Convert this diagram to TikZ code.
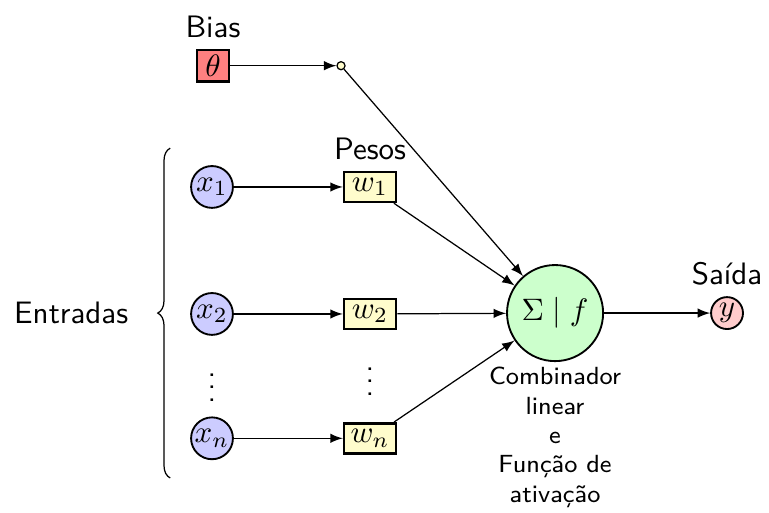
\documentclass[tikz,border=0pt]{standalone}
\usepackage{amsmath,amssymb}
\usepackage{xcolor}
\usepackage{tikz}
\usetikzlibrary{arrows}
\usetikzlibrary{decorations.pathreplacing}

\begin{document}
\begin{tikzpicture}[>=latex, font=\sffamily,
    entrada/.style={circle,draw,semithick,fill=blue!20,minimum size=13.5pt,inner sep=0pt},
    peso/.style={rectangle,draw,thick,fill=yellow!20,minimum width=16.8pt,minimum height=9.7pt,inner sep=1pt}]
    \useasboundingbox (0,0) rectangle (8.72,-5.806);
    % bias
    \node[rectangle,draw,thick,fill=red!50,minimum size=10.3pt,inner sep=0pt,label=above:{Bias}] (theta) at (2.415,-0.745) {$\theta$};
    \node[circle,draw,fill=yellow!20,minimum size=2.6pt,inner sep=0pt] (b) at (3.867,-0.745) {};
    % entradas e pesos
    \node[entrada] (x1) at (2.404,-2.12) {$x_1$};
    \node[peso,label=above:{Pesos}] (w1) at (4.196,-2.12) {$w_1$};
    \node[entrada] (x2) at (2.404,-3.56) {$x_2$};
    \node[peso] (w2) at (4.196,-3.56) {$w_2$};
    \node[inner sep=0pt] (dx) at (2.404,-4.29) {$\vdots$};
    \node[inner sep=0pt] (dw) at (4.196,-4.22) {$\vdots$};
    \node[entrada] (xn) at (2.404,-4.97) {$x_n$};
    \node[peso] (wn) at (4.196,-4.97) {$w_n$};
    % neuronio
    \node[circle,draw,semithick,fill=green!20,minimum size=31pt,inner sep=0pt] (soma) at (6.294,-3.55) {$\Sigma \mid f$};
    \node[circle,draw,semithick,fill=red!20,minimum size=10.3pt,inner sep=0pt,label=above:{Saída}] (y) at (8.244,-3.55) {$y$};
    \node[align=center,font=\sffamily\footnotesize] (txt) at (6.294,-4.96) {Combinador\\linear\\e\\Função de\\ativação};
    \coordinate (ct) at (1.93,-1.68);
    \coordinate (cb) at (1.93,-5.42);
    \draw[decorate,decoration={brace,amplitude=4pt}] (cb) -- (ct) node[midway,left=10pt] (ent) {Entradas};
    \draw[->] (theta) -- (b);
    \draw[->] (b) -- (soma);
    \draw[->] (x1) -- (w1);
    \draw[->] (x2) -- (w2);
    \draw[->] (xn) -- (wn);
    \draw[->] (w1) -- (soma);
    \draw[->] (w2) -- (soma);
    \draw[->] (wn) -- (soma);
    \draw[->] (soma) -- (y);
  \end{tikzpicture}
\end{document}
